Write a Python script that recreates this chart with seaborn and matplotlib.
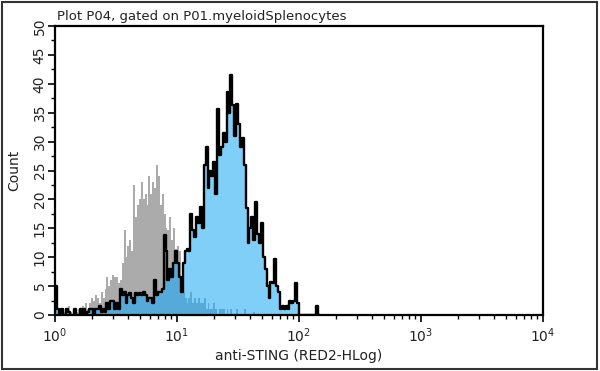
import numpy as np
import pandas as pd
import matplotlib
matplotlib.use("Agg")
import matplotlib.pyplot as plt
from matplotlib.patches import Rectangle
import seaborn as sns

# channel resolution: 64 channels per decade, starting at 10^0
CHANNELS_PER_DECADE = 64

control_counts = [
    1, 0, 1, 0, 0.5, 1, 0, 1.6, 0.5, 0,
    1, 0.5, 1, 0.5, 1.5, 1, 2, 1, 2, 3,
    2.5, 3.5, 3, 2, 4, 3, 4.5,
    6.6, 5, 6, 7, 6.6, 6.5, 5.5, 6, 9, 14.7, 10, 12, 13, 11,
    22.5, 17, 19, 20, 23, 20, 21, 19, 24, 21, 23, 22, 26, 24,
    19, 21, 17.5, 15, 14.7, 17, 13, 15, 11.5, 12, 11, 6, 4,
    3, 2, 3, 4, 2, 3, 2, 3, 2, 2, 3, 1, 2,
    1, 1, 2, 1, 0, 1, 1, 1, 0, 1, 0, 1,
    0, 0, 1, 0, 0, 0, 1, 0, 0, 0, 0, 0.5, 0, 0, 0, 0, 0, 0, 0, 0,
    0, 0, 0, 0, 0, 0, 0, 0, 0, 0, 0, 0, 0, 0, 0, 0, 0, 0, 0, 0,
    0, 0, 0, 0, 0, 0,
]

sting_counts = [
    5, 1,
    0, 1, 0, 0, 1, 0.5, 0, 0, 1, 0, 0, 1, 0, 1, 0, 0.5, 1,
    1, 0, 1, 1, 1.5, 0.5, 1, 0.5,
    2, 1, 2.5, 2.5, 1, 2, 1, 4.5, 3.5, 4, 2, 3.5, 3.8, 3,
    2, 3.8, 3.5, 3.8, 3.5, 4, 3.5, 2.5, 3, 3, 2, 6, 3.5, 4, 4, 4.5,
    13.8, 11, 6, 8, 6.5, 9, 11, 9, 6.5, 4, 9,
    11, 11.5, 11, 17.5, 14.7, 13.5, 17, 16, 18.7, 15, 26, 29,
    22, 25, 24, 26.5, 21, 35.7, 27.6, 29, 31.5, 30, 38.6, 35, 41.5, 36.4, 31, 36.5, 33, 29, 30.6, 26,
    18.5, 12.5, 15, 17, 13, 19.5, 14, 12.5, 16, 10, 8, 5, 3, 5.7, 5.5, 9.7, 5, 4,
    1, 1.5, 1, 1.5, 1, 2.5, 2, 2.5, 5.5, 2, 0, 0, 0, 0, 0, 0, 0, 0, 0, 1.5, 0,
]

x_ticks = [1, 10, 100, 1000, 10000]
y_ticks = [0, 5, 10, 15, 20, 25, 30, 35, 40, 45, 50]

title_text = "Plot P04, gated on P01.myeloidSplenocytes"
x_label = "anti-STING (RED2-HLog)"
y_label = "Count"

n = max(len(control_counts), len(sting_counts))
control = np.zeros(n); control[:len(control_counts)] = control_counts
sting = np.zeros(n); sting[:len(sting_counts)] = sting_counts
channel = np.arange(n)
intensity = 10 ** ((channel + 0.5) / CHANNELS_PER_DECADE)
overlap = np.minimum(control, sting)

df = pd.DataFrame({"intensity": intensity, "control": control,
                   "sting": sting, "overlap": overlap})

sns.set_style("ticks")
plt.rcParams["font.family"] = ["DejaVu Sans"]

fig = plt.figure(figsize=(6.0, 3.71), dpi=100)
ax = fig.add_axes([55 / 600, 1 - 315 / 371, 488 / 600, 289 / 371])

hist_kws = dict(x="intensity", log_scale=True,
                binwidth=1 / CHANNELS_PER_DECADE,
                binrange=(0, n / CHANNELS_PER_DECADE),
                element="step", ax=ax)

sns.histplot(data=df, weights="control", fill=True, color="#ABABAB",
             alpha=1, linewidth=0, **hist_kws)
sns.histplot(data=df, weights="sting", fill=True, color="#80CFF9",
             alpha=1, linewidth=0, **hist_kws)
sns.histplot(data=df, weights="overlap", fill=True, color="#55AADA",
             alpha=1, linewidth=0, **hist_kws)
sns.histplot(data=df, weights="sting", fill=False, color="black",
             alpha=1, linewidth=1.7, **hist_kws)

ax.set_xlim(1, 10000)
ax.set_ylim(0, 50)
ax.set_xticks(x_ticks)
ax.set_yticks(y_ticks)
ax.yaxis.set_minor_locator(matplotlib.ticker.MultipleLocator(2.5))

for s in ax.spines.values():
    s.set_visible(True)
    s.set_color("black")
    s.set_linewidth(1.6)

ax.tick_params(axis="both", which="major", direction="out", length=5,
               width=1.2, color="black", labelsize=10, labelcolor="#222222")
ax.tick_params(axis="both", which="minor", direction="out", length=3,
               width=1.0, color="black")
ax.tick_params(axis="x", pad=3)
ax.tick_params(axis="y", pad=1)
plt.setp(ax.get_yticklabels(), rotation=90, va="center", ha="right")

ax.set_xlabel(x_label, fontsize=10, color="#222222", labelpad=3)
ax.set_ylabel(y_label, fontsize=10, color="#222222", labelpad=8)
ax.set_title(title_text, loc="left", fontsize=9.5, color="#222222", pad=4, x=0.004)

fig.patches.append(Rectangle((0.004, 0.006), 0.991, 0.988,
                             transform=fig.transFigure, fill=False,
                             edgecolor="#333333", linewidth=1.5))

fig.savefig("out.png", dpi=100)
